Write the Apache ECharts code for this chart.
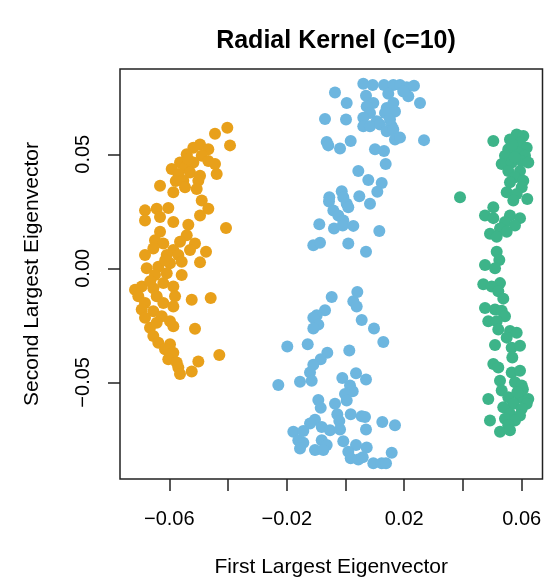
<!DOCTYPE html>
<html>
<head>
<meta charset="utf-8">
<script src="https://cdn.jsdelivr.net/npm/echarts@6/dist/echarts.min.js"></script>
<style>html,body{margin:0;padding:0;background:#fff}#c{width:555px;height:583px}</style>
</head>
<body>
<div id="c"></div>
<script>
// Cluster 1 (orange)
const orangeX = [-0.04025,-0.04444,-0.03933,-0.04954,-0.05182,-0.04672,-0.05407,-0.04896,-0.04672,-0.05635,-0.05182,-0.04444,-0.05918,-0.05465,-0.05693,-0.05295,-0.04386,-0.04954,-0.05523,-0.05012,-0.06316,-0.05863,-0.05465,-0.05067,-0.04896,-0.06827,-0.06429,-0.06034,-0.04672,-0.04954,-0.06827,-0.06316,-0.05863,-0.05353,-0.04069,-0.06316,-0.06487,-0.05407,-0.05635,-0.06204,-0.05125,-0.06544,-0.05863,-0.05295,-0.06827,-0.04750,-0.06088,-0.05693,-0.04954,-0.06769,-0.06374,-0.05976,-0.05578,-0.06487,-0.06088,-0.05578,-0.07167,-0.06939,-0.06544,-0.06204,-0.05863,-0.07055,-0.06429,-0.05805,-0.05237,-0.04590,-0.06827,-0.06204,-0.05863,-0.06939,-0.06544,-0.06827,-0.06258,-0.05976,-0.05863,-0.06657,-0.05125,-0.06544,-0.06374,-0.05976,-0.06146,-0.05863,-0.04297,-0.06034,-0.05012,-0.05748,-0.05693,-0.05237,-0.05635,-0.05362,-0.05780,-0.06140,-0.06650,-0.06430];
const orangeY = [0.0616,0.0590,0.0539,0.0543,0.0529,0.0522,0.0500,0.0493,0.0471,0.0464,0.0464,0.0457,0.0435,0.0442,0.0413,0.0420,0.0413,0.0406,0.0384,0.0384,0.0362,0.0333,0.0355,0.0348,0.0297,0.0254,0.0261,0.0264,0.0261,0.0232,0.0210,0.0225,0.0203,0.0191,0.0177,0.0160,0.0123,0.0145,0.0116,0.0109,0.0109,0.0087,0.0080,0.0080,0.0058,0.0073,0.0058,0.0058,0.0026,0.0000,0.0007,0.0022,0.0029,-0.0029,-0.0022,-0.0029,-0.0094,-0.0080,-0.0087,-0.0065,-0.0080,-0.0123,-0.0123,-0.0123,-0.0138,-0.0130,-0.0152,-0.0152,-0.0167,-0.0181,-0.0188,-0.0217,-0.0210,-0.0232,-0.0254,-0.0261,-0.0265,-0.0297,-0.0326,-0.0333,-0.0355,-0.0370,-0.0380,-0.0399,-0.0409,-0.0413,-0.0435,-0.0453,-0.0464,0.0478,0.0383,0.0035,-0.0057,-0.0239];
// Cluster 2 (blue)
const blueX = [0.00606,0.00926,0.01311,0.01628,0.01856,0.02084,0.02332,-0.00358,0.00698,0.01457,0.02138,0.01968,0.00041,0.00947,0.01628,0.02537,0.00722,0.01403,0.00834,0.01345,0.01685,-0.00698,0.00017,0.00606,0.01062,0.01515,0.00606,0.00834,0.01175,0.01573,0.01403,0.01628,0.01685,0.01856,0.02673,-0.00640,-0.00586,-0.00187,0.00177,0.01004,0.01311,0.01369,0.00436,0.00776,0.01233,0.01083,-0.00129,-0.00552,-0.00562,-0.00075,0.00041,0.00095,0.00470,0.00834,-0.00415,-0.00245,-0.00075,-0.00892,-0.00392,-0.00095,0.00266,0.01151,-0.01096,-0.00868,0.00095,0.00698,
 -0.00470,0.00402,0.00266,0.00381,-0.00698,-0.00981,-0.01096,0.00552,-0.00926,-0.01096,0.00970,0.01287,-0.01982,-0.01287,0.00129,-0.00620,-0.00844,-0.01096,-0.01209,0.00358,-0.00109,0.00698,-0.02288,-0.01549,-0.01151,0.00153,0.00245,-0.00017,-0.00926,-0.00844,0.00041,-0.00358,-0.00279,0.00177,0.00552,0.00664,-0.00211,-0.01039,-0.01209,0.01253,0.01685,-0.00810,-0.00528,-0.00187,0.00698,-0.01777,-0.01437,-0.01607,-0.01437,-0.01549,-0.00810,-0.00640,-0.01039,-0.00756,-0.00075,0.00358,0.00722,0.00095,0.00177,0.00436,0.00586,0.00947,0.01233,0.01379,0.01573];
const blueY = [0.0809,0.0804,0.0804,0.0804,0.0804,0.0794,0.0800,0.0771,0.0757,0.0765,0.0754,0.0775,0.0725,0.0725,0.0725,0.0725,0.0710,0.0703,0.0681,0.0681,0.0688,0.0655,0.0652,0.0660,0.0645,0.0652,0.0623,0.0623,0.0630,0.0623,0.0601,0.0609,0.0565,0.0573,0.0562,0.0554,0.0539,0.0525,0.0558,0.0522,0.0514,0.0457,0.0427,0.0387,0.0374,0.0336,0.0338,0.0312,0.0293,0.0312,0.0283,0.0268,0.0316,0.0283,0.0253,0.0232,0.0210,0.0193,0.0174,0.0188,0.0186,0.0164,0.0101,0.0112,0.0109,0.0073,
 -0.0126,-0.0104,-0.0145,-0.0167,-0.0184,-0.0206,-0.0217,-0.0227,-0.0247,-0.0264,-0.0264,-0.0323,-0.0343,-0.0333,-0.0360,-0.0370,-0.0399,-0.0423,-0.0457,-0.0460,-0.0481,-0.0488,-0.0512,-0.0497,-0.0493,-0.0514,-0.0539,-0.0551,-0.0577,-0.0612,-0.0580,-0.0594,-0.0640,-0.0640,-0.0649,-0.0652,-0.0670,-0.0664,-0.0681,-0.0674,-0.0688,-0.0696,-0.0710,-0.0707,-0.0707,-0.0717,-0.0713,-0.0754,-0.0765,-0.0790,-0.0754,-0.0775,-0.0797,-0.0797,-0.0758,-0.0775,-0.0786,-0.0804,-0.0833,-0.0838,-0.0829,-0.0855,-0.0855,-0.0855,-0.0809];
// Cluster 3 (green)
const greenX = [0.05829,0.06054,0.05601,0.05942,0.05033,0.06170,0.05543,0.05884,0.06112,0.05431,0.05319,0.05659,0.06000,0.06224,0.05543,0.05942,0.05771,0.06054,0.05601,0.06000,0.05489,0.05829,0.06190,0.03899,0.05714,0.05033,0.04750,0.05033,0.05601,0.05942,0.05431,0.05771,0.05261,0.04920,0.05489,0.05148,0.05148,0.05237,0.04750,0.05091,0.04692,0.05261,0.04978,0.05203,0.05373,0.04750,0.05091,0.05319,0.05431,0.04862,0.05148,0.05203,0.05601,0.05829,0.05489,0.05091,0.05659,0.05942,0.05033,0.05203,0.05659,0.05942,0.05771,0.06000,0.05261,0.05319,0.04862,0.05543,0.05942,0.06224,0.05714,0.06170,0.05373,0.06000,0.05601,0.05942,0.04920,0.05431,0.05771,0.05543,0.05261,0.05601,0.05760,0.05680,0.06040,0.05850,0.05680];
const greenY = [0.0587,0.0580,0.0565,0.0551,0.0558,0.0529,0.0522,0.0507,0.0493,0.0493,0.0457,0.0464,0.0471,0.0464,0.0427,0.0427,0.0399,0.0384,0.0377,0.0355,0.0333,0.0326,0.0304,0.0312,0.0297,0.0268,0.0232,0.0220,0.0232,0.0220,0.0203,0.0188,0.0174,0.0152,0.0160,0.0138,0.0073,0.0036,0.0014,0.0000,-0.0070,-0.0065,-0.0080,-0.0101,-0.0133,-0.0174,-0.0181,-0.0186,-0.0210,-0.0232,-0.0232,-0.0268,-0.0275,-0.0283,-0.0304,-0.0336,-0.0348,-0.0340,-0.0420,-0.0435,-0.0457,-0.0449,-0.0500,-0.0514,-0.0493,-0.0536,-0.0573,-0.0565,-0.0565,-0.0573,-0.0594,-0.0594,-0.0609,-0.0616,-0.0638,-0.0645,-0.0667,-0.0660,-0.0667,-0.0688,-0.0717,-0.0710,0.0487,0.0543,-0.0530,-0.0544,-0.0391];

const xTicks = [-0.06,-0.04,-0.02,0,0.02,0.04,0.06];
const xTickLabels = [-0.06,-0.02,0.02,0.06];
const yTicks = [-0.05,0,0.05];

const zip = (a,b) => a.map((v,i)=>[v,b[i]]);
const fmt = v => (v < 0 ? '\u2212' : '') + Math.abs(v).toFixed(2);
const FONT = 'Liberation Sans, Arial, Helvetica, sans-serif';

const chart = echarts.init(document.getElementById('c'), null, {renderer:'canvas'});
chart.setOption({
  animation:false,
  backgroundColor:'#fff',
  title:{text:'Radial Kernel (c=10)', left:331, textAlign:'center', top:24,
    textStyle:{fontFamily:FONT, fontSize:25, fontWeight:'bold', color:'#000'}},
  grid:{left:120, top:69, right:12.5, bottom:100.5, show:true, borderColor:'#222', borderWidth:1.5, backgroundColor:'transparent'},
  xAxis:{type:'value', min:-0.07679, max:0.06708,
    name:'First Largest Eigenvector', nameLocation:'middle', nameGap:78,
    nameTextStyle:{fontFamily:FONT, fontSize:21, color:'#000'},
    axisLine:{show:false, onZero:false}, splitLine:{show:false},
    axisTick:{show:true, length:12, customValues:xTicks, lineStyle:{color:'#222', width:1.5}},
    axisLabel:{customValues:xTickLabels, formatter:fmt, margin:30, fontFamily:FONT, fontSize:20, color:'#000'}},
  yAxis:{type:'value', min:-0.09239, max:0.08739,
    name:'Second Largest Eigenvector', nameLocation:'middle', nameGap:77,
    nameTextStyle:{fontFamily:FONT, fontSize:21, color:'#000'},
    axisLine:{show:false, onZero:false}, splitLine:{show:false},
    axisTick:{show:true, length:12, customValues:yTicks, lineStyle:{color:'#222', width:1.5}},
    axisLabel:{customValues:yTicks, formatter:fmt, rotate:90, margin:27, fontFamily:FONT, fontSize:20, color:'#000'}},
  series:[
    {type:'scatter', data:zip(orangeX,orangeY), symbolSize:12, itemStyle:{color:'#E8A01A', opacity:1}},
    {type:'scatter', data:zip(blueX,blueY), symbolSize:12, itemStyle:{color:'#6DB6DF', opacity:1}},
    {type:'scatter', data:zip(greenX,greenY), symbolSize:12, itemStyle:{color:'#3DB489', opacity:1}}
  ]
});
</script>
</body>
</html>
